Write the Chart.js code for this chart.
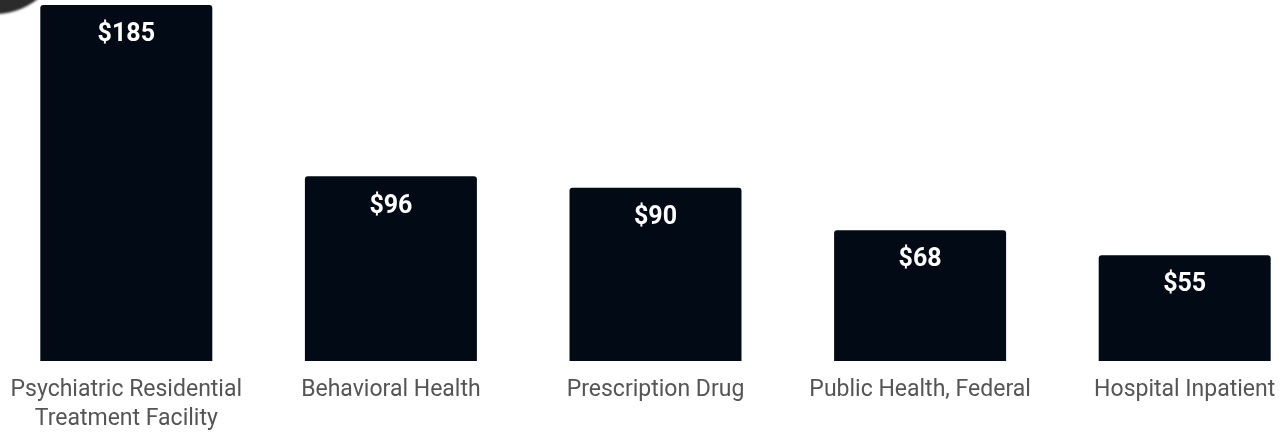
<!DOCTYPE html>
<html>
<head>
<meta charset="utf-8">
<script src="https://cdn.jsdelivr.net/npm/chart.js@4.4.1/dist/chart.umd.min.js"></script>
<style>
  html, body { margin: 0; padding: 0; background: #ffffff; overflow: hidden; }
  #wrap { position: relative; width: 1285px; height: 432px; overflow: hidden; }
  #box { position: absolute; left: -6px; top: 0; width: 1323px; height: 432px; }
  #blob { position: absolute; left: -74px; top: -124px; width: 138px; height: 138px; border-radius: 50%;
          background: #2b2b2b; filter: blur(1px); z-index: 2; }
</style>
</head>
<body>
<div id="wrap">
  <div id="box"><canvas id="c"></canvas></div>
  <div id="blob"></div>
</div>
<script>
const categories = [
  ["Psychiatric Residential", "Treatment Facility"],
  "Behavioral Health",
  "Prescription Drug",
  "Public Health, Federal",
  "Hospital Inpatient"
];
const values = [185, 96, 90, 68, 55];
const valueLabels = ["$185", "$96", "$90", "$68", "$55"];

const barLabelPlugin = {
  id: 'barLabels',
  afterDatasetsDraw(chart) {
    const ctx = chart.ctx;
    const meta = chart.getDatasetMeta(0);
    ctx.save();
    ctx.fillStyle = '#ffffff';
    ctx.font = 'bold 25px Roboto';
    ctx.textAlign = 'center';
    ctx.textBaseline = 'middle';
    meta.data.forEach((bar, i) => {
      ctx.fillText(valueLabels[i], bar.x, bar.y + 30);
    });
    ctx.restore();
  }
};

new Chart(document.getElementById('c'), {
  type: 'bar',
  data: {
    labels: categories,
    datasets: [{
      data: values,
      backgroundColor: '#020a15',
      borderRadius: { topLeft: 3, topRight: 3, bottomLeft: 0, bottomRight: 0 },
      borderSkipped: 'bottom',
      categoryPercentage: 0.65,
      barPercentage: 1.0
    }]
  },
  options: {
    responsive: true,
    maintainAspectRatio: false,
    animation: false,
    layout: { padding: { top: 5, left: 0, right: 0, bottom: 0 } },
    plugins: { legend: { display: false }, tooltip: { enabled: false } },
    scales: {
      x: {
        grid: { display: false, drawTicks: false },
        border: { display: false },
        afterFit(scale) { scale.height = 71; },
        ticks: {
          color: '#555555',
          font: { family: 'Roboto', size: 23, lineHeight: '29px' },
          padding: 15,
          maxRotation: 0,
          autoSkip: false
        }
      },
      y: {
        display: false,
        min: 0,
        max: 185
      }
    }
  },
  plugins: [barLabelPlugin]
});
</script>
</body>
</html>
